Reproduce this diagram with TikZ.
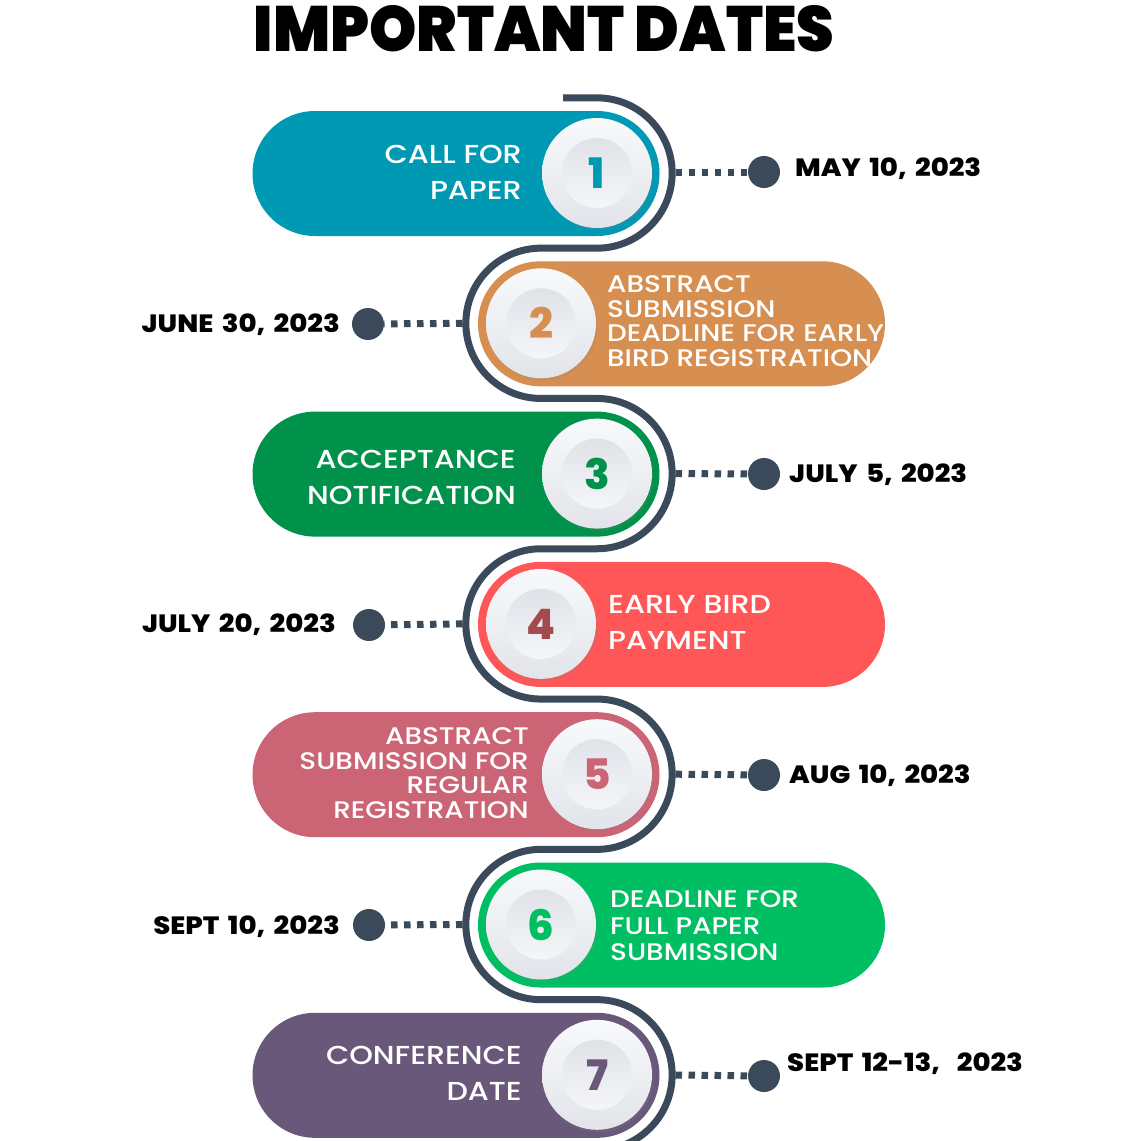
\documentclass[tikz,border=0pt]{standalone}
\usepackage{fontspec}
\setmainfont{Poppins}[BoldFont={Poppins Bold}]
\newfontfamily\pillfont{Poppins Medium}[FakeStretch=1.16]
\newfontfamily\datefont{Poppins ExtraBold}[FakeStretch=1.1, WordSpace=1.6]
\newfontfamily\titlefont{Poppins Black}[FakeStretch=0.94]
\newfontfamily\numfont{Poppins ExtraBold}
\usetikzlibrary{shadows}
\definecolor{snakec}{HTML}{3A4A5B}
\definecolor{cA}{HTML}{0099B3}
\definecolor{cB}{HTML}{D68F51}
\definecolor{cC}{HTML}{00924A}
\definecolor{cD}{HTML}{FF5757}
\definecolor{nD}{HTML}{A34A4E}
\definecolor{cE}{HTML}{CB6576}
\definecolor{cF}{HTML}{00BF63}
\definecolor{cG}{HTML}{6A587B}
\definecolor{ctop}{HTML}{F8F9FB}
\definecolor{cbot}{HTML}{E2E4EA}
\definecolor{itop}{HTML}{E0E2E8}
\definecolor{ibot}{HTML}{F5F6F9}
\begin{document}
\begin{tikzpicture}[x=1pt,y=-1pt,
  pill/.style={minimum height=125pt, minimum width=407pt, rounded corners=62.5pt, inner sep=0pt},
  outerc/.style={circle, minimum size=110pt, inner sep=0pt, top color=ctop, bottom color=cbot,
     drop shadow={opacity=0.18, shadow xshift=1.5pt, shadow yshift=-2.5pt}},
  innerc/.style={circle, minimum size=70pt, inner sep=0pt, top color=itop, bottom color=ibot,
     font=\numfont\fontsize{42}{42}\selectfont},
  ptext/.style={text=white, inner sep=0pt, font=\pillfont\fontsize{26}{36}\selectfont},
  ptextsmall/.style={text=white, inner sep=0pt, font=\pillfont\fontsize{24}{24.5}\selectfont},
  datetext/.style={text=black, inner sep=0pt, font=\datefont\fontsize{25}{25}\selectfont},
  snakeline/.style={draw=snakec, line width=7pt},
  link/.style={draw=snakec, line width=7pt, dash pattern=on 6.5pt off 6.5pt},
  dot/.style={circle, fill=snakec, minimum size=32pt, inner sep=0pt}
]
\useasboundingbox[fill=white] (0,0) rectangle (1120,1141);

% title
\node[anchor=base, inner sep=0pt, font=\titlefont\fontsize{64}{64}\selectfont] (title) at (544,51) {IMPORTANT DATES};

% snake
\draw[snakeline] (563,97.85) -- (597,97.85)
  arc[start angle=-90,end angle=90,radius=75.15] -- (541,248.15)
  arc[start angle=270,end angle=90,radius=75.15] -- (597,398.45)
  arc[start angle=-90,end angle=90,radius=75.15] -- (541,548.75)
  arc[start angle=270,end angle=90,radius=75.15] -- (597,699.05)
  arc[start angle=-90,end angle=90,radius=75.15] -- (541,849.35)
  arc[start angle=270,end angle=90,radius=75.15] -- (597,999.65)
  arc[start angle=-90,end angle=90,radius=75.15] -- ++(-40,0);

% pills
\node[pill, fill=cA] (p1) at (456,173.5) {};
\node[pill, fill=cB] (p2) at (681.5,323.8) {};
\node[pill, fill=cC] (p3) at (456,474.1) {};
\node[pill, fill=cD] (p4) at (681.5,624.4) {};
\node[pill, fill=cE] (p5) at (456,774.7) {};
\node[pill, fill=cF] (p6) at (681.5,925) {};
\node[pill, fill=cG] (p7) at (456,1075.3) {};

% number circles
\node[outerc] (o1) at (597,173) {};
\node[innerc, text=cA] (n1) at (597,173) {1};
\node[outerc] (o2) at (541,323.3) {};
\node[innerc, text=cB] (n2) at (541,323.3) {2};
\node[outerc] (o3) at (597,473.6) {};
\node[innerc, text=cC] (n3) at (597,473.6) {3};
\node[outerc] (o4) at (541,623.9) {};
\node[innerc, text=nD] (n4) at (541,623.9) {4};
\node[outerc] (o5) at (597,774.2) {};
\node[innerc, text=cE] (n5) at (597,774.2) {5};
\node[outerc] (o6) at (541,924.5) {};
\node[innerc, text=cF] (n6) at (541,924.5) {6};
\node[outerc] (o7) at (597,1074.8) {};
\node[innerc, text=cG] (n7) at (597,1074.8) {7};

% pill texts
\node[ptext, align=right, anchor=east] (t1) at (522,172) {CALL FOR\\PAPER};
\node[ptextsmall, align=left, anchor=west] (t2) at (607,321) {ABSTRACT\\SUBMISSION\\DEADLINE FOR EARLY\\BIRD REGISTRATION};
\node[ptext, align=right, anchor=east] (t3) at (516,477) {ACCEPTANCE\\NOTIFICATION};
\node[ptext, align=left, anchor=west] (t4) at (608,622) {EARLY BIRD\\PAYMENT};
\node[ptextsmall, align=right, anchor=east] (t5) at (529,773) {ABSTRACT\\SUBMISSION FOR\\REGULAR\\REGISTRATION};
\node[ptextsmall, align=left, anchor=west, font=\pillfont\fontsize{24}{26.5}\selectfont] (t6) at (610,926) {DEADLINE FOR\\FULL PAPER\\SUBMISSION};
\node[ptext, align=right, anchor=east] (t7) at (522,1073) {CONFERENCE\\DATE};

% connector start points on the snake
\coordinate (s1) at (675.5,172);
\coordinate (s2) at (462.5,323.3);
\coordinate (s3) at (675.5,473.6);
\coordinate (s4) at (462.5,623.9);
\coordinate (s5) at (675.5,774.2);
\coordinate (s6) at (462.5,924.5);
\coordinate (s7) at (675.5,1075);

% dots
\node[dot] (d1) at (764,172) {};
\node[dot] (d2) at (368,324) {};
\node[dot] (d3) at (764,474) {};
\node[dot] (d4) at (369,625) {};
\node[dot] (d5) at (764,775) {};
\node[dot] (d6) at (369,925) {};
\node[dot] (d7) at (764,1076) {};

\draw[link] (s1) -- (d1);
\draw[link] (s2) -- (d2);
\draw[link] (s3) -- (d3);
\draw[link] (s4) -- (d4);
\draw[link] (s5) -- (d5);
\draw[link] (s6) -- (d6);
\draw[link] (s7) -- (d7);

% dates
\node[datetext, anchor=base west] (dt1) at (795,176) {MAY 10, 2023};
\node[datetext, anchor=base east] (dt2) at (340,332) {JUNE 30, 2023};
\node[datetext, anchor=base west] (dt3) at (789,482) {JULY 5, 2023};
\node[datetext, anchor=base east] (dt4) at (336,632) {JULY 20, 2023};
\node[datetext, anchor=base west] (dt5) at (789,783) {AUG 10, 2023};
\node[datetext, anchor=base east] (dt6) at (340,934) {SEPT 10, 2023};
\node[datetext, anchor=base west] (dt7) at (787,1071) {SEPT 12-13,~~2023};
\end{tikzpicture}
\end{document}
